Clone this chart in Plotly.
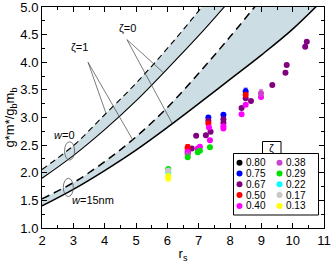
import plotly.graph_objects as go

# ---------------- data ----------------
rs_grid = [2, 3, 4, 5, 6, 7, 8, 9, 10, 11]
w0_zeta0 = [1.90, 2.31, 2.78, 3.30, 3.88, 4.48, 5.12]
w0_zeta1 = [2.06, 2.49, 3.05, 3.62, 4.25, 4.93, 5.65]
w15_zeta0 = [1.40, 1.70, 2.04, 2.41, 2.82, 3.25, 3.69, 4.13, 4.60, 5.15]
w15_zeta1 = [1.53, 1.82, 2.20, 2.65, 3.18, 3.80, 4.46, 5.15]

zeta_labels = ["0.80", "0.75", "0.67", "0.50", "0.40", "0.38", "0.29", "0.22", "0.17", "0.13"]
zeta_colors = ["#000000", "#0000FF", "#800080", "#FF0000", "#FF00FF",
               "#CC44CC", "#00E000", "#00FFFF", "#C8C8C8", "#FFFF00"]

rs_080 = []
g_080 = []
e_080 = []

rs_075 = [8.50, 7.79, 7.31]
g_075 = [3.47, 3.05, 3.00]
e_075 = [0.06, 0.02, 0.02]

rs_067 = [10.45, 10.40, 9.81, 9.77, 9.35, 8.67, 8.37, 8.50, 7.79, 7.79, 7.31, 7.38, 7.23, 6.92, 6.78, 6.65]
g_067 = [4.37, 4.28, 3.95, 3.81, 3.59, 3.30, 3.17, 3.35, 2.97, 2.90, 2.94, 2.74, 2.68, 2.67, 2.44, 2.36]
e_067 = [0.02, 0.02, 0.02, 0.03, 0.02, 0.02, 0.02, 0.02, 0.02, 0.02, 0.02, 0.02, 0.02, 0.02, 0.02, 0.02]

rs_050 = [8.50, 7.31, 6.65, 6.65]
g_050 = [3.41, 2.89, 2.46, 2.43]
e_050 = [0.03, 0.03, 0.05, 0.02]

rs_040 = [8.99, 8.50, 8.37, 7.79, 7.79, 7.33, 7.36, 7.04, 6.97, 6.65]
g_040 = [3.37, 3.23, 3.06, 2.84, 2.80, 2.82, 2.59, 2.47, 2.44, 2.38]
e_040 = [0.02, 0.02, 0.02, 0.02, 0.02, 0.02, 0.02, 0.02, 0.02, 0.02]

rs_038 = [8.99, 6.65]
g_038 = [3.44, 2.33]
e_038 = [0.06, 0.02]

rs_029 = [7.36, 7.04, 6.97, 6.65, 6.03]
g_029 = [2.46, 2.40, 2.37, 2.28, 2.07]
e_029 = [0.02, 0.02, 0.02, 0.02, 0.02]

rs_022 = [6.03]
g_022 = [2.01]
e_022 = [0.02]

rs_017 = [6.03]
g_017 = [2.04]
e_017 = [0.02]

rs_013 = [6.03, 6.03]
g_013 = [1.94, 1.90]
e_013 = [0.02, 0.05]

series = [
    (rs_080, g_080, e_080),
    (rs_075, g_075, e_075),
    (rs_067, g_067, e_067),
    (rs_050, g_050, e_050),
    (rs_040, g_040, e_040),
    (rs_038, g_038, e_038),
    (rs_029, g_029, e_029),
    (rs_022, g_022, e_022),
    (rs_017, g_017, e_017),
    (rs_013, g_013, e_013),
]

x_ticks = [2, 3, 4, 5, 6, 7, 8, 9, 10, 11]
y_ticks = [1.0, 1.5, 2.0, 2.5, 3.0, 3.5, 4.0, 4.5, 5.0]

# ---------------- figure ----------------
FONT = "Liberation Sans, Arial, sans-serif"
BAND = "#CDDDE4"
W, H = 333, 268
L, R, T, B = 42, 9, 7, 40

fig = go.Figure()

# bands (fills)
for lo, hi in [(w0_zeta0, w0_zeta1), (w15_zeta0, w15_zeta1)]:
    fig.add_trace(go.Scatter(x=rs_grid[:len(lo)], y=lo, mode="lines",
                             line=dict(width=0, shape="spline", color=BAND),
                             showlegend=False, hoverinfo="skip"))
    fig.add_trace(go.Scatter(x=rs_grid[:len(hi)], y=hi, mode="lines", fill="tonexty",
                             fillcolor=BAND,
                             line=dict(width=0, shape="spline", color=BAND),
                             showlegend=False, hoverinfo="skip"))

# curves
for ys, dash, wdt in [(w0_zeta0, "solid", 1.1), (w0_zeta1, "6px,4px", 1.1),
                      (w15_zeta0, "solid", 1.5), (w15_zeta1, "8px,5px", 1.5)]:
    fig.add_trace(go.Scatter(x=rs_grid[:len(ys)], y=ys, mode="lines",
                             line=dict(color="black", width=wdt, dash=dash, shape="spline"),
                             showlegend=False, hoverinfo="skip"))

# data points
for (xs, ys, es), col, lab in zip(series, zeta_colors, zeta_labels):
    fig.add_trace(go.Scatter(x=xs, y=ys, mode="markers", name=lab,
                             marker=dict(color=col, size=6),
                             error_y=dict(type="data", array=es, color=col,
                                          thickness=1, width=2),
                             showlegend=False))

# annotation pointer lines (data coords)
pointer_lines = [
    (3.47, 4.00, 4.04, 3.08), (3.47, 4.00, 4.90, 2.59),
    (4.71, 4.41, 5.86, 3.82), (4.71, 4.41, 6.15, 2.90),
]
shapes = []
for x0, y0, x1, y1 in pointer_lines:
    shapes.append(dict(type="line", xref="x", yref="y", x0=x0, y0=y0, x1=x1, y1=y1,
                       line=dict(color="#444444", width=0.7)))
# ellipses
for x0, x1, y0, y1 in [(2.72, 3.04, 2.23, 2.56), (2.68, 3.00, 1.57, 1.90)]:
    shapes.append(dict(type="circle", xref="x", yref="y", x0=x0, x1=x1, y0=y0, y1=y1,
                       line=dict(color="#555555", width=0.8)))

# legend box + tab, in the pixel-based overlay axes (x2/y2)
shapes.append(dict(type="rect", xref="x2", yref="y2", x0=233.5, y0=215, x1=318.5, y1=153.5,
                   line=dict(color="black", width=1), fillcolor="white", layer="below"))
shapes.append(dict(type="rect", xref="x2", yref="y2", x0=262.5, y0=153.5, x1=281, y1=141.5,
                   line=dict(color="black", width=1), fillcolor="white", layer="below"))

annotations = []
tfont = dict(family=FONT, size=11, color="black")
annotations.append(dict(text="ζ=1", x=3.21, y=4.28, xref="x", yref="y", showarrow=False, font=tfont))
annotations.append(dict(text="ζ=0", x=4.74, y=4.62, xref="x", yref="y", showarrow=False, font=tfont))
annotations.append(dict(text="<i>w</i>=0", x=2.72, y=2.68, xref="x", yref="y", showarrow=False, font=tfont))
annotations.append(dict(text="<i>w</i>=15nm", x=3.62, y=1.50, xref="x", yref="y", showarrow=False, font=tfont))
annotations.append(dict(text="ζ", x=271.7, y=147.5, xref="x2", yref="y2", showarrow=False,
                        xanchor="center", yanchor="middle",
                        font=dict(family=FONT, size=11, color="black")))

# legend entries
row_py = [162.7, 173.5, 184.3, 195.1, 205.9]
leg_x, leg_y, leg_c = [], [], []
for i, (lab, col) in enumerate(zip(zeta_labels, zeta_colors)):
    col_i, row_i = divmod(i, 5)
    mx = 239.5 + 40 * col_i
    my = row_py[row_i]
    leg_x.append(mx)
    leg_y.append(my)
    leg_c.append(col)
    annotations.append(dict(text=lab, x=mx + 4.5, y=my, xref="x2", yref="y2", showarrow=False,
                            xanchor="left", yanchor="middle",
                            font=dict(family=FONT, size=10, color="black")))
fig.add_trace(go.Scatter(x=leg_x, y=leg_y, mode="markers", xaxis="x2", yaxis="y2",
                         marker=dict(color=leg_c, size=6), showlegend=False, hoverinfo="skip"))

axis_common = dict(showline=True, linecolor="black", linewidth=1, mirror="ticks",
                   ticks="inside", ticklen=5, tickwidth=1, tickcolor="black",
                   showgrid=False, zeroline=False, automargin=False,
                   tickfont=dict(family=FONT, size=13, color="black"))

fig.update_layout(
    width=W, height=H,
    margin=dict(l=L, r=R, t=T, b=B, autoexpand=False),
    paper_bgcolor="white", plot_bgcolor="white",
    showlegend=False,
    shapes=shapes, annotations=annotations,
    xaxis=dict(range=[2, 11], tickvals=x_ticks, ticktext=[str(v) for v in x_ticks],
               ticklabeloverflow="allow",
               minor=dict(ticks="inside", dtick=0.5, ticklen=3, tickcolor="black", showgrid=False),
               title=dict(text="r<sub>s</sub>", font=dict(family=FONT, size=13, color="black"),
                          standoff=2),
               **axis_common),
    yaxis=dict(range=[1, 5], tickvals=y_ticks, ticktext=[f"{v:.1f}" for v in y_ticks],
               ticklabeloverflow="allow",
               minor=dict(ticks="inside", dtick=0.25, ticklen=3, tickcolor="black", showgrid=False),
               title=dict(text="g*m*/g<sub>b</sub>m<sub>b</sub>",
                          font=dict(family=FONT, size=13, color="black"), standoff=2),
               **axis_common),
    xaxis2=dict(overlaying="x", range=[L, W - R], visible=False, automargin=False),
    yaxis2=dict(overlaying="y", range=[H - B, T], visible=False, automargin=False),
)

fig.write_html("out.html",
               config={"displayModeBar": False, "staticPlot": True},
               post_script="document.body.style.margin='0';document.body.style.padding='0';")
